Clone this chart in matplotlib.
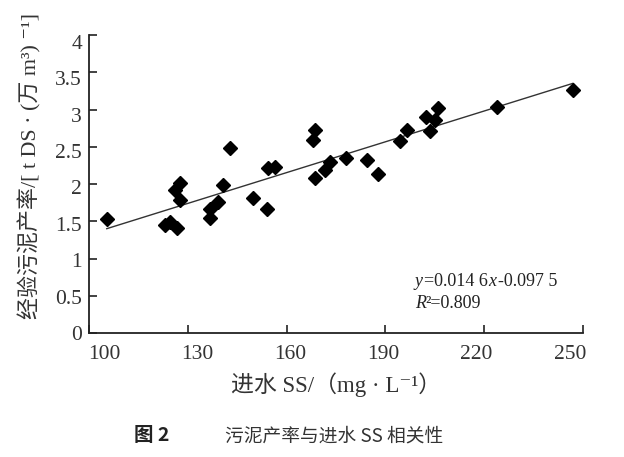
import numpy as np
import matplotlib
matplotlib.use("Agg")
import matplotlib.pyplot as plt
from matplotlib.ticker import FuncFormatter

# Data
ss_in = [105.4, 123.1, 124.6, 126.6, 126.1, 127.6, 127.6, 136.7, 136.7, 139.3,
         140.8, 142.8, 149.9, 154.0, 154.4, 156.5, 168.1, 168.6, 168.6, 171.6,
         173.2, 178.2, 184.3, 187.8, 194.4, 196.5, 202.5, 203.5, 205.0, 206.1,
         223.8, 247.0]
sludge_rate = [1.53, 1.45, 1.49, 1.41, 1.92, 2.01, 1.79, 1.67, 1.54, 1.76,
               1.99, 2.48, 1.81, 1.66, 2.21, 2.23, 2.59, 2.72, 2.08, 2.19,
               2.30, 2.35, 2.32, 2.14, 2.58, 2.72, 2.90, 2.71, 2.86, 3.02,
               3.04, 3.27]
x_ticks = [100, 130, 160, 190, 220, 250]
y_ticks = [0, 0.5, 1, 1.5, 2, 2.5, 3, 3.5, 4]
r2_text = "0.809"

serif = ['Liberation Serif', 'DejaVu Serif', 'Noto Sans CJK SC']
plt.rcParams['font.family'] = serif

fig = plt.figure(figsize=(6.24, 4.57), dpi=100)
rect = [0.1426, 0.2713, 0.934 - 0.1426, 0.923 - 0.2713]

# overlay axes carrying the tick labels (the original's labels sit on a
# slightly compressed scale relative to the tick marks)
axl = fig.add_axes(rect, frameon=False)
axl.patch.set_visible(False)
axl.set_xlim(95.17, 254.2)
axl.set_ylim(0.028, 4.093)
axl.set_xticks(x_ticks)
axl.set_yticks(y_ticks)
axl.yaxis.set_major_formatter(FuncFormatter(lambda v, p: ('%g' % v)))
axl.tick_params(length=0, labelsize=15.5, labelcolor='#333333')
axl.tick_params(axis='x', pad=8.5)
axl.tick_params(axis='y', pad=5)

ax = fig.add_axes(rect)
ax.patch.set_visible(False)

x = np.array(ss_in)
y = np.array(sludge_rate)
ax.plot(x, y, linestyle='none', marker='D', ms=7.5, color='black', zorder=3)

# regression line
k, b = np.polyfit(x, y, 1)
xl = np.array([x.min(), x.max()])
ax.plot(xl, k * xl + b, color='#333333', lw=1.0, zorder=2)

ax.set_xlim(100, 250)
ax.set_ylim(0, 4)
ax.set_xticks(x_ticks)
ax.set_yticks(y_ticks)
ax.tick_params(labelbottom=False, labelleft=False)
for s in ['top', 'right']:
    ax.spines[s].set_visible(False)
for s in ['left', 'bottom']:
    ax.spines[s].set_linewidth(1.3)
    ax.spines[s].set_color('#222222')
ax.tick_params(direction='in', length=6, width=1.2, colors='#222222')

# equation text
fs_eq = 13
ye, yr = 0.69, 0.40
ax.text(199.0, ye, "y", fontsize=fs_eq, style='italic', color='#222222', va='center')
ax.text(201.7, ye, "=0.014 6", fontsize=fs_eq, color='#222222', va='center')
ax.text(221.4, ye, "x", fontsize=fs_eq, style='italic', color='#222222', va='center')
ax.text(224.2, ye, "-0.097 5", fontsize=fs_eq, color='#222222', va='center')
ax.text(199.0, yr, "R", fontsize=fs_eq, style='italic', color='#222222', va='center')
ax.text(202.2, yr, "²=" + r2_text, fontsize=fs_eq, color='#222222', va='center')

axl.set_xlabel("进水 SS/（mg · L⁻¹）", fontsize=16.5, color='#333333', labelpad=6)
axl.set_ylabel("经验污泥产率/[ t DS · (万 m³) ⁻¹]", fontsize=15.8, color='#333333')
axl.yaxis.set_label_coords(-0.097, 0.56)

fig.text(0.215, 0.047, "图 2", fontsize=14, fontweight='bold', color='#222222',
         family=['Noto Sans CJK SC'], va='center', ha='left')
fig.text(0.36, 0.047, "污泥产率与进水 SS 相关性", fontsize=13.5, color='#333333',
         family=['Noto Sans CJK SC'], va='center', ha='left', fontweight='light')

fig.savefig("out.png", dpi=100)
